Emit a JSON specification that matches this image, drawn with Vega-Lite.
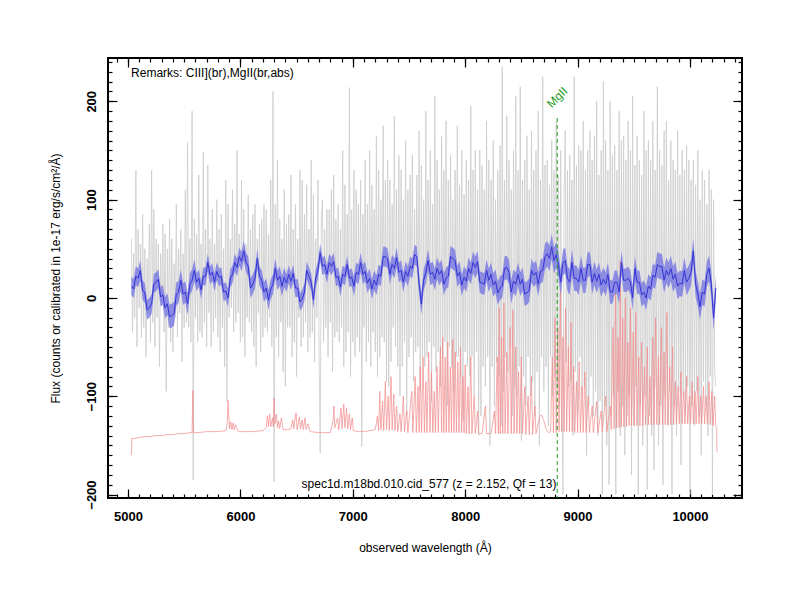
{
  "$schema": "https://vega.github.io/schema/vega-lite/v6.json",
  "width": 634,
  "height": 440,
  "autosize": {"type": "none"},
  "padding": {"left": 108, "top": 58, "right": 58, "bottom": 102},
  "background": "white",
  "config": {
    "view": {"stroke": "black", "strokeWidth": 2},
    "font": "Liberation Sans",
    "axis": {
      "grid": false,
      "domain": false,
      "tickColor": "black",
      "tickWidth": 1.2,
      "labelColor": "black",
      "labelFont": "Liberation Sans",
      "labelFontWeight": "bold",
      "labelFontSize": 13,
      "titleFont": "Liberation Sans",
      "titleFontWeight": "normal",
      "titleFontSize": 12,
      "titleColor": "black"
    }
  },
  "datasets": {
    "spec": [
      {"w":5030,"f":60},{"w":5040,"f":-35},{"w":5050,"f":45},{"w":5060,"f":-20},{"w":5070,"f":130},{"w":5080,"f":-50},{"w":5090,"f":70},{"w":5100,"f":-10},{"w":5110,"f":55},{"w":5120,"f":-40},
      {"w":5130,"f":85},{"w":5140,"f":-30},{"w":5150,"f":50},{"w":5160,"f":-60},{"w":5170,"f":40},{"w":5180,"f":-15},{"w":5190,"f":75},{"w":5200,"f":-45},{"w":5210,"f":130},{"w":5220,"f":-25},
      {"w":5230,"f":90},{"w":5240,"f":-50},{"w":5250,"f":60},{"w":5260,"f":-20},{"w":5270,"f":55},{"w":5280,"f":-70},{"w":5290,"f":45},{"w":5300,"f":-5},{"w":5310,"f":75},{"w":5320,"f":-35},
      {"w":5330,"f":65},{"w":5340,"f":-95},{"w":5350,"f":50},{"w":5360,"f":-30},{"w":5370,"f":80},{"w":5380,"f":-45},{"w":5390,"f":60},{"w":5400,"f":-55},{"w":5410,"f":35},{"w":5420,"f":-20},
      {"w":5430,"f":95},{"w":5440,"f":-40},{"w":5450,"f":50},{"w":5460,"f":-15},{"w":5470,"f":70},{"w":5480,"f":-65},{"w":5490,"f":45},{"w":5500,"f":-30},{"w":5510,"f":110},{"w":5520,"f":-25},
      {"w":5530,"f":158},{"w":5540,"f":-30},{"w":5550,"f":60},{"w":5560,"f":-45},{"w":5570,"f":190},{"w":5580,"f":-185},{"w":5590,"f":80},{"w":5600,"f":-20},{"w":5610,"f":65},{"w":5620,"f":-45},
      {"w":5630,"f":125},{"w":5640,"f":-35},{"w":5650,"f":55},{"w":5660,"f":-40},{"w":5670,"f":148},{"w":5680,"f":-25},{"w":5690,"f":70},{"w":5700,"f":-50},{"w":5710,"f":135},{"w":5720,"f":-15},
      {"w":5730,"f":60},{"w":5740,"f":-50},{"w":5750,"f":90},{"w":5760,"f":-35},{"w":5770,"f":55},{"w":5780,"f":-20},{"w":5790,"f":100},{"w":5800,"f":-40},{"w":5810,"f":70},{"w":5820,"f":-55},
      {"w":5830,"f":85},{"w":5840,"f":-30},{"w":5850,"f":50},{"w":5860,"f":-70},{"w":5870,"f":120},{"w":5880,"f":-105},{"w":5890,"f":95},{"w":5900,"f":-20},{"w":5910,"f":60},{"w":5920,"f":-10},
      {"w":5930,"f":110},{"w":5940,"f":-35},{"w":5950,"f":75},{"w":5960,"f":-25},{"w":5970,"f":150},{"w":5980,"f":-15},{"w":5990,"f":65},{"w":6000,"f":-45},{"w":6010,"f":120},{"w":6020,"f":-40},
      {"w":6030,"f":90},{"w":6040,"f":-60},{"w":6050,"f":55},{"w":6060,"f":-20},{"w":6070,"f":105},{"w":6080,"f":-25},{"w":6090,"f":70},{"w":6100,"f":-35},{"w":6110,"f":85},{"w":6120,"f":-50},
      {"w":6130,"f":95},{"w":6140,"f":-70},{"w":6150,"f":60},{"w":6160,"f":-15},{"w":6170,"f":75},{"w":6180,"f":-55},{"w":6190,"f":80},{"w":6200,"f":-40},{"w":6210,"f":95},{"w":6220,"f":-30},
      {"w":6230,"f":90},{"w":6240,"f":-35},{"w":6250,"f":65},{"w":6260,"f":-20},{"w":6270,"f":120},{"w":6280,"f":-50},{"w":6290,"f":210},{"w":6300,"f":-187},{"w":6310,"f":95},{"w":6320,"f":-40},
      {"w":6330,"f":140},{"w":6340,"f":-60},{"w":6350,"f":80},{"w":6360,"f":-25},{"w":6370,"f":60},{"w":6380,"f":-75},{"w":6390,"f":110},{"w":6400,"f":-90},{"w":6410,"f":75},{"w":6420,"f":-30},
      {"w":6430,"f":85},{"w":6440,"f":-30},{"w":6450,"f":125},{"w":6460,"f":-60},{"w":6470,"f":70},{"w":6480,"f":-45},{"w":6490,"f":95},{"w":6500,"f":-80},{"w":6510,"f":60},{"w":6520,"f":-20},
      {"w":6530,"f":130},{"w":6540,"f":-50},{"w":6550,"f":120},{"w":6560,"f":-40},{"w":6570,"f":85},{"w":6580,"f":-25},{"w":6590,"f":115},{"w":6600,"f":-55},{"w":6610,"f":70},{"w":6620,"f":-40},
      {"w":6630,"f":140},{"w":6640,"f":-35},{"w":6650,"f":105},{"w":6660,"f":-65},{"w":6670,"f":60},{"w":6680,"f":-20},{"w":6690,"f":120},{"w":6700,"f":-50},{"w":6710,"f":-158},{"w":6720,"f":80},
      {"w":6730,"f":100},{"w":6740,"f":-45},{"w":6750,"f":70},{"w":6760,"f":-30},{"w":6770,"f":90},{"w":6780,"f":-60},{"w":6790,"f":90},{"w":6800,"f":-25},{"w":6810,"f":110},{"w":6820,"f":-75},
      {"w":6830,"f":125},{"w":6840,"f":-40},{"w":6850,"f":80},{"w":6860,"f":-35},{"w":6870,"f":95},{"w":6880,"f":-45},{"w":6890,"f":70},{"w":6900,"f":-30},{"w":6910,"f":150},{"w":6920,"f":-70},
      {"w":6930,"f":115},{"w":6940,"f":-55},{"w":6950,"f":85},{"w":6960,"f":-35},{"w":6970,"f":214},{"w":6980,"f":-80},{"w":6990,"f":90},{"w":7000,"f":-45},{"w":7010,"f":130},{"w":7020,"f":-60},
      {"w":7030,"f":110},{"w":7040,"f":-40},{"w":7050,"f":95},{"w":7060,"f":-55},{"w":7070,"f":120},{"w":7080,"f":-151},{"w":7090,"f":85},{"w":7100,"f":-30},{"w":7110,"f":140},{"w":7120,"f":-65},
      {"w":7130,"f":95},{"w":7140,"f":-45},{"w":7150,"f":150},{"w":7160,"f":-70},{"w":7170,"f":115},{"w":7180,"f":-35},{"w":7190,"f":90},{"w":7200,"f":-55},{"w":7210,"f":165},{"w":7220,"f":-80},
      {"w":7230,"f":130},{"w":7240,"f":-60},{"w":7250,"f":100},{"w":7260,"f":-40},{"w":7270,"f":175},{"w":7280,"f":-45},{"w":7290,"f":120},{"w":7300,"f":-85},{"w":7310,"f":140},{"w":7320,"f":-90},
      {"w":7330,"f":120},{"w":7340,"f":-65},{"w":7350,"f":95},{"w":7360,"f":-30},{"w":7370,"f":185},{"w":7380,"f":-50},{"w":7390,"f":110},{"w":7400,"f":-70},{"w":7410,"f":145},{"w":7420,"f":-100},
      {"w":7430,"f":130},{"w":7440,"f":-70},{"w":7450,"f":100},{"w":7460,"f":-45},{"w":7470,"f":160},{"w":7480,"f":-120},{"w":7490,"f":110},{"w":7500,"f":-60},{"w":7510,"f":125},{"w":7520,"f":-40},
      {"w":7530,"f":145},{"w":7540,"f":-85},{"w":7550,"f":90},{"w":7560,"f":-55},{"w":7570,"f":125},{"w":7580,"f":-50},{"w":7590,"f":170},{"w":7600,"f":-95},{"w":7610,"f":135},{"w":7620,"f":-60},
      {"w":7630,"f":100},{"w":7640,"f":-70},{"w":7650,"f":190},{"w":7660,"f":-60},{"w":7670,"f":120},{"w":7680,"f":-45},{"w":7690,"f":150},{"w":7700,"f":-105},{"w":7710,"f":95},{"w":7720,"f":-50},
      {"w":7730,"f":205},{"w":7740,"f":-75},{"w":7750,"f":140},{"w":7760,"f":-55},{"w":7770,"f":110},{"w":7780,"f":-90},{"w":7790,"f":165},{"w":7800,"f":-60},{"w":7810,"f":130},{"w":7820,"f":-45},
      {"w":7830,"f":180},{"w":7840,"f":-110},{"w":7850,"f":120},{"w":7860,"f":-50},{"w":7870,"f":145},{"w":7880,"f":-70},{"w":7890,"f":100},{"w":7900,"f":-95},{"w":7910,"f":130},{"w":7920,"f":-60},
      {"w":7930,"f":175},{"w":7940,"f":-60},{"w":7950,"f":115},{"w":7960,"f":-80},{"w":7970,"f":150},{"w":7980,"f":-125},{"w":7990,"f":105},{"w":8000,"f":-55},{"w":8010,"f":140},{"w":8020,"f":-70},
      {"w":8030,"f":120},{"w":8040,"f":-80},{"w":8050,"f":195},{"w":8060,"f":-60},{"w":8070,"f":130},{"w":8080,"f":-100},{"w":8090,"f":150},{"w":8100,"f":-55},{"w":8110,"f":110},{"w":8120,"f":-140},
      {"w":8130,"f":150},{"w":8140,"f":-120},{"w":8150,"f":135},{"w":8160,"f":-70},{"w":8170,"f":110},{"w":8180,"f":-90},{"w":8190,"f":180},{"w":8200,"f":-60},{"w":8210,"f":140},{"w":8220,"f":-150},
      {"w":8230,"f":120},{"w":8240,"f":-70},{"w":8250,"f":160},{"w":8260,"f":-110},{"w":8270,"f":100},{"w":8280,"f":-65},{"w":8290,"f":130},{"w":8300,"f":-80},{"w":8310,"f":155},{"w":8320,"f":-130},
      {"w":8330,"f":235},{"w":8340,"f":-95},{"w":8350,"f":120},{"w":8360,"f":-60},{"w":8370,"f":185},{"w":8380,"f":-75},{"w":8390,"f":140},{"w":8400,"f":-50},{"w":8410,"f":110},{"w":8420,"f":-120},
      {"w":8430,"f":150},{"w":8440,"f":-90},{"w":8450,"f":205},{"w":8460,"f":-100},{"w":8470,"f":130},{"w":8480,"f":-70},{"w":8490,"f":215},{"w":8500,"f":-145},{"w":8510,"f":120},{"w":8520,"f":-80},
      {"w":8530,"f":140},{"w":8540,"f":-110},{"w":8550,"f":165},{"w":8560,"f":-60},{"w":8570,"f":110},{"w":8580,"f":-100},{"w":8590,"f":170},{"w":8600,"f":-85},{"w":8610,"f":130},{"w":8620,"f":-120},
      {"w":8630,"f":150},{"w":8640,"f":-75},{"w":8650,"f":190},{"w":8660,"f":-150},{"w":8670,"f":120},{"w":8680,"f":-60},{"w":8690,"f":225},{"w":8700,"f":-95},{"w":8710,"f":135},{"w":8720,"f":-70},
      {"w":8730,"f":140},{"w":8740,"f":-130},{"w":8750,"f":115},{"w":8760,"f":-60},{"w":8770,"f":160},{"w":8780,"f":-100},{"w":8790,"f":130},{"w":8800,"f":-80},{"w":8810,"f":180},{"w":8820,"f":-90},
      {"w":8830,"f":125},{"w":8840,"f":-110},{"w":8850,"f":150},{"w":8860,"f":-70},{"w":8870,"f":-200},{"w":8880,"f":110},{"w":8890,"f":170},{"w":8900,"f":-65},{"w":8910,"f":130},{"w":8920,"f":-90},
      {"w":8930,"f":145},{"w":8940,"f":-85},{"w":8950,"f":120},{"w":8960,"f":-140},{"w":8970,"f":225},{"w":8980,"f":-75},{"w":8990,"f":135},{"w":9000,"f":-120},{"w":9010,"f":155},{"w":9020,"f":-60},
      {"w":9030,"f":150},{"w":9040,"f":-100},{"w":9050,"f":180},{"w":9060,"f":-90},{"w":9070,"f":130},{"w":9080,"f":-160},{"w":9090,"f":150},{"w":9100,"f":-110},{"w":9110,"f":170},{"w":9120,"f":-80},
      {"w":9130,"f":140},{"w":9140,"f":-120},{"w":9150,"f":165},{"w":9160,"f":-95},{"w":9170,"f":200},{"w":9180,"f":-140},{"w":9190,"f":125},{"w":9200,"f":-105},{"w":9210,"f":150},{"w":9220,"f":-200},
      {"w":9230,"f":220},{"w":9240,"f":-110},{"w":9250,"f":160},{"w":9260,"f":-150},{"w":9270,"f":130},{"w":9280,"f":-190},{"w":9290,"f":200},{"w":9300,"f":-120},{"w":9310,"f":145},{"w":9320,"f":-100},
      {"w":9330,"f":155},{"w":9340,"f":-200},{"w":9350,"f":130},{"w":9360,"f":-95},{"w":9370,"f":190},{"w":9380,"f":-140},{"w":9390,"f":160},{"w":9400,"f":-110},{"w":9410,"f":165},{"w":9420,"f":-160},
      {"w":9430,"f":140},{"w":9440,"f":-120},{"w":9450,"f":180},{"w":9460,"f":-100},{"w":9470,"f":150},{"w":9480,"f":-180},{"w":9490,"f":205},{"w":9500,"f":-130},{"w":9510,"f":135},{"w":9520,"f":-90},
      {"w":9530,"f":165},{"w":9540,"f":-200},{"w":9550,"f":140},{"w":9560,"f":-110},{"w":9570,"f":125},{"w":9580,"f":-150},{"w":9590,"f":190},{"w":9600,"f":-100},{"w":9610,"f":150},{"w":9620,"f":-195},
      {"w":9630,"f":160},{"w":9640,"f":-120},{"w":9650,"f":140},{"w":9660,"f":-140},{"w":9670,"f":180},{"w":9680,"f":-175},{"w":9690,"f":130},{"w":9700,"f":-90},{"w":9710,"f":215},{"w":9720,"f":-150},
      {"w":9730,"f":150},{"w":9740,"f":-110},{"w":9750,"f":135},{"w":9760,"f":-190},{"w":9770,"f":170},{"w":9780,"f":-100},{"w":9790,"f":180},{"w":9800,"f":-130},{"w":9810,"f":120},{"w":9820,"f":-95},
      {"w":9830,"f":160},{"w":9840,"f":-200},{"w":9850,"f":140},{"w":9860,"f":-110},{"w":9870,"f":130},{"w":9880,"f":-140},{"w":9890,"f":170},{"w":9900,"f":-95},{"w":9910,"f":125},{"w":9920,"f":-170},
      {"w":9930,"f":150},{"w":9940,"f":-100},{"w":9950,"f":130},{"w":9960,"f":-120},{"w":9970,"f":155},{"w":9980,"f":-90},{"w":9990,"f":140},{"w":10000,"f":-200},{"w":10010,"f":120},{"w":10020,"f":-110},
      {"w":10030,"f":140},{"w":10040,"f":-130},{"w":10050,"f":115},{"w":10060,"f":-95},{"w":10070,"f":150},{"w":10080,"f":-120},{"w":10090,"f":100},{"w":10100,"f":-160},{"w":10110,"f":130},{"w":10120,"f":-85},
      {"w":10130,"f":120},{"w":10140,"f":-110},{"w":10150,"f":95},{"w":10160,"f":-140},{"w":10170,"f":130},{"w":10180,"f":-80},{"w":10190,"f":110},{"w":10200,"f":-200},{"w":10210,"f":100},{"w":10220,"f":-75},
      {"w":10230,"f":-90}
    ],
    "smooth": [
      {"w":5030,"s":12,"lo":3,"hi":22},{"w":5050,"s":9,"lo":0,"hi":19},{"w":5070,"s":22,"lo":13,"hi":32},{"w":5090,"s":20,"lo":11,"hi":30},{"w":5110,"s":28,"lo":18,"hi":38},
      {"w":5130,"s":8,"lo":-2,"hi":18},{"w":5150,"s":5,"lo":-5,"hi":15},{"w":5170,"s":-12,"lo":-22,"hi":-2},{"w":5190,"s":-10,"lo":-20,"hi":0},{"w":5210,"s":-6,"lo":-16,"hi":4},
      {"w":5230,"s":14,"lo":5,"hi":24},{"w":5250,"s":16,"lo":7,"hi":26},{"w":5270,"s":19,"lo":10,"hi":29},{"w":5290,"s":1,"lo":-9,"hi":11},{"w":5310,"s":3,"lo":-7,"hi":13},
      {"w":5330,"s":-10,"lo":-21,"hi":1},{"w":5350,"s":-6,"lo":-17,"hi":5},{"w":5370,"s":-19,"lo":-31,"hi":-7},{"w":5390,"s":-18,"lo":-30,"hi":-6},{"w":5410,"s":-16,"lo":-28,"hi":-4},
      {"w":5430,"s":4,"lo":-8,"hi":16},{"w":5450,"s":6,"lo":-5,"hi":17},{"w":5470,"s":18,"lo":7,"hi":29},{"w":5490,"s":4,"lo":-7,"hi":15},{"w":5510,"s":6,"lo":-5,"hi":17},
      {"w":5530,"s":-6,"lo":-17,"hi":5},{"w":5550,"s":14,"lo":3,"hi":25},{"w":5570,"s":18,"lo":7,"hi":29},{"w":5590,"s":28,"lo":17,"hi":39},{"w":5610,"s":16,"lo":7,"hi":25},
      {"w":5630,"s":20,"lo":11,"hi":29},{"w":5650,"s":8,"lo":-1,"hi":17},{"w":5670,"s":22,"lo":13,"hi":31},{"w":5690,"s":22,"lo":13,"hi":31},{"w":5710,"s":36,"lo":27,"hi":45},
      {"w":5730,"s":23,"lo":14,"hi":32},{"w":5750,"s":26,"lo":17,"hi":35},{"w":5770,"s":16,"lo":7,"hi":25},{"w":5790,"s":27,"lo":18,"hi":36},{"w":5810,"s":21,"lo":12,"hi":30},
      {"w":5830,"s":22,"lo":13,"hi":31},{"w":5850,"s":6,"lo":-3,"hi":15},{"w":5870,"s":7,"lo":-2,"hi":16},{"w":5890,"s":0,"lo":-9,"hi":9},{"w":5910,"s":20,"lo":11,"hi":29},
      {"w":5930,"s":24,"lo":15,"hi":33},{"w":5950,"s":36,"lo":27,"hi":45},{"w":5970,"s":31,"lo":22,"hi":40},{"w":5990,"s":42,"lo":33,"hi":51},{"w":6010,"s":37,"lo":27,"hi":47},
      {"w":6030,"s":48,"lo":38,"hi":58},{"w":6050,"s":36,"lo":26,"hi":46},{"w":6070,"s":32,"lo":22,"hi":42},{"w":6090,"s":10,"lo":0,"hi":20},{"w":6110,"s":14,"lo":4,"hi":24},
      {"w":6130,"s":20,"lo":10,"hi":30},{"w":6150,"s":40,"lo":30,"hi":50},{"w":6170,"s":22,"lo":12,"hi":32},{"w":6190,"s":18,"lo":8,"hi":28},{"w":6210,"s":6,"lo":-4,"hi":16},
      {"w":6230,"s":10,"lo":0,"hi":20},{"w":6250,"s":-2,"lo":-12,"hi":8},{"w":6270,"s":9,"lo":-1,"hi":19},{"w":6290,"s":14,"lo":4,"hi":24},{"w":6310,"s":30,"lo":20,"hi":40},
      {"w":6330,"s":18,"lo":8,"hi":28},{"w":6350,"s":22,"lo":12,"hi":32},{"w":6370,"s":12,"lo":2,"hi":22},{"w":6390,"s":21,"lo":11,"hi":31},{"w":6410,"s":15,"lo":6,"hi":24},
      {"w":6430,"s":24,"lo":15,"hi":33},{"w":6450,"s":17,"lo":8,"hi":26},{"w":6470,"s":25,"lo":16,"hi":34},{"w":6490,"s":10,"lo":1,"hi":19},{"w":6510,"s":10,"lo":1,"hi":19},
      {"w":6530,"s":-4,"lo":-13,"hi":5},{"w":6550,"s":-1,"lo":-10,"hi":8},{"w":6570,"s":6,"lo":-3,"hi":15},{"w":6590,"s":28,"lo":19,"hi":37},{"w":6610,"s":22,"lo":13,"hi":31},
      {"w":6630,"s":16,"lo":7,"hi":25},{"w":6650,"s":-2,"lo":-11,"hi":7},{"w":6670,"s":20,"lo":11,"hi":29},{"w":6690,"s":28,"lo":19,"hi":37},{"w":6710,"s":46,"lo":37,"hi":55},
      {"w":6730,"s":32,"lo":23,"hi":41},{"w":6750,"s":34,"lo":25,"hi":43},{"w":6770,"s":24,"lo":15,"hi":33},{"w":6790,"s":36,"lo":27,"hi":45},{"w":6810,"s":32,"lo":23,"hi":41},
      {"w":6830,"s":37,"lo":28,"hi":46},{"w":6850,"s":21,"lo":12,"hi":30},{"w":6870,"s":22,"lo":13,"hi":31},{"w":6890,"s":11,"lo":2,"hi":20},{"w":6910,"s":24,"lo":15,"hi":33},
      {"w":6930,"s":22,"lo":13,"hi":31},{"w":6950,"s":34,"lo":25,"hi":43},{"w":6970,"s":20,"lo":11,"hi":29},{"w":6990,"s":21,"lo":12,"hi":30},{"w":7010,"s":12,"lo":2,"hi":22},
      {"w":7030,"s":26,"lo":16,"hi":36},{"w":7050,"s":24,"lo":14,"hi":34},{"w":7070,"s":36,"lo":26,"hi":46},{"w":7090,"s":24,"lo":14,"hi":34},{"w":7110,"s":27,"lo":17,"hi":37},
      {"w":7130,"s":15,"lo":5,"hi":25},{"w":7150,"s":20,"lo":10,"hi":30},{"w":7170,"s":9,"lo":-1,"hi":19},{"w":7190,"s":18,"lo":8,"hi":28},{"w":7210,"s":13,"lo":3,"hi":23},
      {"w":7230,"s":24,"lo":14,"hi":34},{"w":7250,"s":22,"lo":12,"hi":32},{"w":7270,"s":42,"lo":32,"hi":52},{"w":7290,"s":42,"lo":32,"hi":52},{"w":7310,"s":40,"lo":30,"hi":50},
      {"w":7330,"s":24,"lo":14,"hi":34},{"w":7350,"s":34,"lo":24,"hi":44},{"w":7370,"s":30,"lo":20,"hi":40},{"w":7390,"s":41,"lo":31,"hi":51},{"w":7410,"s":26,"lo":16,"hi":36},
      {"w":7430,"s":28,"lo":18,"hi":38},{"w":7450,"s":16,"lo":6,"hi":26},{"w":7470,"s":27,"lo":17,"hi":37},{"w":7490,"s":22,"lo":12,"hi":32},{"w":7510,"s":32,"lo":22,"hi":42},
      {"w":7530,"s":30,"lo":20,"hi":40},{"w":7550,"s":44,"lo":34,"hi":54},{"w":7570,"s":42,"lo":32,"hi":52},{"w":7590,"s":14,"lo":4,"hi":24},{"w":7610,"s":-6,"lo":-17,"hi":5},
      {"w":7630,"s":18,"lo":7,"hi":29},{"w":7650,"s":26,"lo":15,"hi":37},{"w":7670,"s":38,"lo":27,"hi":49},{"w":7690,"s":24,"lo":13,"hi":35},{"w":7710,"s":26,"lo":15,"hi":37},
      {"w":7730,"s":19,"lo":8,"hi":30},{"w":7750,"s":30,"lo":19,"hi":41},{"w":7770,"s":24,"lo":13,"hi":35},{"w":7790,"s":28,"lo":17,"hi":39},{"w":7810,"s":14,"lo":3,"hi":25},
      {"w":7830,"s":20,"lo":9,"hi":31},{"w":7850,"s":22,"lo":11,"hi":33},{"w":7870,"s":42,"lo":31,"hi":53},{"w":7890,"s":40,"lo":29,"hi":51},{"w":7910,"s":38,"lo":27,"hi":49},
      {"w":7930,"s":22,"lo":11,"hi":33},{"w":7950,"s":26,"lo":15,"hi":37},{"w":7970,"s":13,"lo":2,"hi":24},{"w":7990,"s":21,"lo":10,"hi":32},{"w":8010,"s":17,"lo":6,"hi":28},
      {"w":8030,"s":30,"lo":19,"hi":41},{"w":8050,"s":25,"lo":14,"hi":36},{"w":8070,"s":36,"lo":25,"hi":47},{"w":8090,"s":31,"lo":20,"hi":42},{"w":8110,"s":37,"lo":26,"hi":48},
      {"w":8130,"s":16,"lo":5,"hi":27},{"w":8150,"s":15,"lo":4,"hi":26},{"w":8170,"s":14,"lo":3,"hi":25},{"w":8190,"s":28,"lo":17,"hi":39},{"w":8210,"s":18,"lo":6,"hi":30},
      {"w":8230,"s":24,"lo":12,"hi":36},{"w":8250,"s":13,"lo":1,"hi":25},{"w":8270,"s":17,"lo":5,"hi":29},{"w":8290,"s":5,"lo":-7,"hi":17},{"w":8310,"s":10,"lo":-2,"hi":22},
      {"w":8330,"s":12,"lo":0,"hi":24},{"w":8350,"s":30,"lo":18,"hi":42},{"w":8370,"s":31,"lo":19,"hi":43},{"w":8390,"s":26,"lo":14,"hi":38},{"w":8410,"s":6,"lo":-6,"hi":18},
      {"w":8430,"s":17,"lo":5,"hi":29},{"w":8450,"s":14,"lo":2,"hi":26},{"w":8470,"s":24,"lo":12,"hi":36},{"w":8490,"s":14,"lo":2,"hi":26},{"w":8510,"s":19,"lo":7,"hi":31},
      {"w":8530,"s":4,"lo":-8,"hi":16},{"w":8550,"s":5,"lo":-7,"hi":17},{"w":8570,"s":8,"lo":-4,"hi":20},{"w":8590,"s":28,"lo":16,"hi":40},{"w":8610,"s":23,"lo":11,"hi":35},
      {"w":8630,"s":26,"lo":14,"hi":38},{"w":8650,"s":14,"lo":2,"hi":26},{"w":8670,"s":27,"lo":15,"hi":39},{"w":8690,"s":28,"lo":16,"hi":40},{"w":8710,"s":42,"lo":29,"hi":55},
      {"w":8730,"s":45,"lo":32,"hi":58},{"w":8750,"s":40,"lo":27,"hi":53},{"w":8770,"s":52,"lo":39,"hi":65},{"w":8790,"s":38,"lo":25,"hi":51},{"w":8810,"s":44,"lo":31,"hi":57},
      {"w":8830,"s":34,"lo":21,"hi":47},{"w":8850,"s":16,"lo":3,"hi":29},{"w":8870,"s":36,"lo":23,"hi":49},{"w":8890,"s":38,"lo":25,"hi":51},{"w":8910,"s":20,"lo":7,"hi":33},
      {"w":8930,"s":16,"lo":3,"hi":29},{"w":8950,"s":36,"lo":23,"hi":49},{"w":8970,"s":20,"lo":7,"hi":33},{"w":8990,"s":20,"lo":7,"hi":33},{"w":9010,"s":16,"lo":3,"hi":29},
      {"w":9030,"s":30,"lo":17,"hi":43},{"w":9050,"s":18,"lo":5,"hi":31},{"w":9070,"s":18,"lo":5,"hi":31},{"w":9090,"s":34,"lo":21,"hi":47},{"w":9110,"s":34,"lo":22,"hi":46},
      {"w":9130,"s":16,"lo":4,"hi":28},{"w":9150,"s":25,"lo":13,"hi":37},{"w":9170,"s":17,"lo":5,"hi":29},{"w":9190,"s":24,"lo":12,"hi":36},{"w":9210,"s":13,"lo":1,"hi":25},
      {"w":9230,"s":19,"lo":7,"hi":31},{"w":9250,"s":14,"lo":2,"hi":26},{"w":9270,"s":24,"lo":12,"hi":36},{"w":9290,"s":6,"lo":-6,"hi":18},{"w":9310,"s":6,"lo":-6,"hi":18},
      {"w":9330,"s":16,"lo":4,"hi":28},{"w":9350,"s":16,"lo":4,"hi":28},{"w":9370,"s":6,"lo":-6,"hi":18},{"w":9390,"s":36,"lo":24,"hi":48},{"w":9410,"s":18,"lo":6,"hi":30},
      {"w":9430,"s":18,"lo":6,"hi":30},{"w":9450,"s":20,"lo":8,"hi":32},{"w":9470,"s":16,"lo":4,"hi":28},{"w":9490,"s":0,"lo":-12,"hi":12},{"w":9510,"s":30,"lo":18,"hi":42},
      {"w":9530,"s":16,"lo":4,"hi":28},{"w":9550,"s":16,"lo":4,"hi":28},{"w":9570,"s":3,"lo":-9,"hi":15},{"w":9590,"s":6,"lo":-6,"hi":18},{"w":9610,"s":0,"lo":-12,"hi":12},
      {"w":9630,"s":12,"lo":0,"hi":24},{"w":9650,"s":9,"lo":-3,"hi":21},{"w":9670,"s":23,"lo":11,"hi":35},{"w":9690,"s":21,"lo":9,"hi":33},{"w":9710,"s":34,"lo":21,"hi":47},
      {"w":9730,"s":32,"lo":19,"hi":45},{"w":9750,"s":32,"lo":19,"hi":45},{"w":9770,"s":18,"lo":5,"hi":31},{"w":9790,"s":28,"lo":15,"hi":41},{"w":9810,"s":23,"lo":10,"hi":36},
      {"w":9830,"s":30,"lo":17,"hi":43},{"w":9850,"s":19,"lo":6,"hi":32},{"w":9870,"s":24,"lo":11,"hi":37},{"w":9890,"s":12,"lo":-1,"hi":25},{"w":9910,"s":15,"lo":2,"hi":28},
      {"w":9930,"s":14,"lo":1,"hi":27},{"w":9950,"s":28,"lo":15,"hi":41},{"w":9970,"s":16,"lo":3,"hi":29},{"w":9990,"s":20,"lo":7,"hi":33},{"w":10010,"s":26,"lo":13,"hi":39},
      {"w":10030,"s":48,"lo":35,"hi":61},{"w":10050,"s":14,"lo":1,"hi":27},{"w":10070,"s":4,"lo":-9,"hi":17},{"w":10090,"s":-9,"lo":-22,"hi":4},{"w":10110,"s":6,"lo":-7,"hi":19},
      {"w":10130,"s":4,"lo":-9,"hi":17},{"w":10150,"s":24,"lo":11,"hi":37},{"w":10170,"s":30,"lo":17,"hi":43},{"w":10190,"s":14,"lo":1,"hi":27},{"w":10210,"s":-20,"lo":-33,"hi":-7},
      {"w":10230,"s":10,"lo":-3,"hi":23}
    ],
    "sky": [
      {"w":5030,"e":-160},{"w":5034,"e":-143},{"w":5060,"e":-143},{"w":5100,"e":-142},{"w":5150,"e":-141},{"w":5200,"e":-141},{"w":5250,"e":-140},{"w":5300,"e":-140},{"w":5350,"e":-139},{"w":5400,"e":-139},
      {"w":5450,"e":-138},{"w":5500,"e":-138},{"w":5550,"e":-137},{"w":5570,"e":-137},{"w":5577,"e":-94},{"w":5584,"e":-137},{"w":5620,"e":-137},{"w":5700,"e":-136},{"w":5800,"e":-136},{"w":5870,"e":-135},
      {"w":5883,"e":-128},{"w":5890,"e":-104},{"w":5896,"e":-118},{"w":5903,"e":-133},{"w":5915,"e":-126},{"w":5925,"e":-134},{"w":5935,"e":-127},{"w":5945,"e":-134},{"w":5958,"e":-129},{"w":5975,"e":-135},
      {"w":6000,"e":-136},{"w":6100,"e":-136},{"w":6200,"e":-135},{"w":6230,"e":-132},{"w":6240,"e":-120},{"w":6250,"e":-131},{"w":6260,"e":-118},{"w":6270,"e":-131},{"w":6285,"e":-122},{"w":6293,"e":-131},
      {"w":6300,"e":-102},{"w":6308,"e":-128},{"w":6320,"e":-118},{"w":6330,"e":-132},{"w":6340,"e":-125},{"w":6350,"e":-133},{"w":6365,"e":-122},{"w":6380,"e":-134},{"w":6420,"e":-134},{"w":6450,"e":-133},
      {"w":6465,"e":-124},{"w":6475,"e":-133},{"w":6495,"e":-117},{"w":6505,"e":-134},{"w":6525,"e":-121},{"w":6535,"e":-133},{"w":6550,"e":-124},{"w":6560,"e":-134},{"w":6575,"e":-122},{"w":6585,"e":-134},
      {"w":6600,"e":-128},{"w":6620,"e":-136},{"w":6700,"e":-137},{"w":6800,"e":-137},{"w":6825,"e":-125},{"w":6832,"e":-110},{"w":6840,"e":-132},{"w":6865,"e":-122},{"w":6875,"e":-134},{"w":6895,"e":-112},
      {"w":6905,"e":-133},{"w":6920,"e":-108},{"w":6930,"e":-132},{"w":6945,"e":-112},{"w":6955,"e":-133},{"w":6970,"e":-118},{"w":6980,"e":-134},{"w":6995,"e":-122},{"w":7005,"e":-135},{"w":7050,"e":-136},
      {"w":7100,"e":-136},{"w":7150,"e":-135},{"w":7200,"e":-134},{"w":7220,"e":-120},{"w":7230,"e":-135},{"w":7240,"e":-95},{"w":7250,"e":-134},{"w":7265,"e":-105},{"w":7275,"e":-135},{"w":7290,"e":-85},
      {"w":7300,"e":-134},{"w":7315,"e":-100},{"w":7325,"e":-135},{"w":7340,"e":-80},{"w":7350,"e":-134},{"w":7365,"e":-98},{"w":7375,"e":-135},{"w":7390,"e":-110},{"w":7400,"e":-136},{"w":7420,"e":-118},
      {"w":7430,"e":-136},{"w":7450,"e":-100},{"w":7460,"e":-136},{"w":7480,"e":-115},{"w":7490,"e":-137},{"w":7525,"e":-95},{"w":7535,"e":-137},{"w":7555,"e":-80},{"w":7565,"e":-137},{"w":7580,"e":-90},
      {"w":7590,"e":-137},{"w":7600,"e":-70},{"w":7612,"e":-137},{"w":7625,"e":-60},{"w":7637,"e":-137},{"w":7650,"e":-85},{"w":7660,"e":-137},{"w":7675,"e":-55},{"w":7687,"e":-137},{"w":7700,"e":-75},
      {"w":7712,"e":-137},{"w":7725,"e":-95},{"w":7735,"e":-137},{"w":7750,"e":-70},{"w":7760,"e":-137},{"w":7780,"e":-50},{"w":7790,"e":-137},{"w":7800,"e":-40},{"w":7810,"e":-137},{"w":7822,"e":-60},
      {"w":7832,"e":-137},{"w":7845,"e":-45},{"w":7855,"e":-137},{"w":7868,"e":-70},{"w":7878,"e":-137},{"w":7890,"e":-42},{"w":7900,"e":-137},{"w":7912,"e":-55},{"w":7922,"e":-137},{"w":7935,"e":-65},
      {"w":7945,"e":-137},{"w":7958,"e":-50},{"w":7968,"e":-137},{"w":7980,"e":-80},{"w":7990,"e":-137},{"w":8000,"e":-68},{"w":8010,"e":-138},{"w":8025,"e":-90},{"w":8035,"e":-138},{"w":8050,"e":-60},
      {"w":8060,"e":-138},{"w":8080,"e":-100},{"w":8090,"e":-138},{"w":8110,"e":-115},{"w":8120,"e":-138},{"w":8150,"e":-138},{"w":8180,"e":-110},{"w":8190,"e":-138},{"w":8230,"e":-138},{"w":8260,"e":-115},
      {"w":8270,"e":-138},{"w":8285,"e":-60},{"w":8295,"e":-138},{"w":8302,"e":-10},{"w":8312,"e":-138},{"w":8325,"e":-40},{"w":8334,"e":-138},{"w":8345,"e":-5},{"w":8355,"e":-138},{"w":8370,"e":-55},
      {"w":8380,"e":-138},{"w":8400,"e":-30},{"w":8410,"e":-138},{"w":8425,"e":-12},{"w":8435,"e":-138},{"w":8450,"e":-50},{"w":8460,"e":-138},{"w":8475,"e":-75},{"w":8485,"e":-138},{"w":8500,"e":-60},
      {"w":8510,"e":-138},{"w":8530,"e":-90},{"w":8540,"e":-139},{"w":8560,"e":-100},{"w":8570,"e":-139},{"w":8590,"e":-80},{"w":8600,"e":-139},{"w":8620,"e":-110},{"w":8630,"e":-138},{"w":8650,"e":-128},
      {"w":8665,"e":-120},{"w":8680,"e":-119},{"w":8700,"e":-125},{"w":8720,"e":-133},{"w":8740,"e":-137},{"w":8760,"e":-136},{"w":8775,"e":-60},{"w":8785,"e":-137},{"w":8800,"e":-20},{"w":8810,"e":-137},
      {"w":8825,"e":-30},{"w":8835,"e":-136},{"w":8848,"e":8},{"w":8858,"e":-136},{"w":8870,"e":-40},{"w":8880,"e":-136},{"w":8893,"e":-10},{"w":8903,"e":-136},{"w":8918,"e":-50},{"w":8928,"e":-136},
      {"w":8942,"e":-25},{"w":8952,"e":-136},{"w":8965,"e":-70},{"w":8975,"e":-137},{"w":8990,"e":-85},{"w":9000,"e":-137},{"w":9015,"e":-65},{"w":9025,"e":-137},{"w":9040,"e":-90},{"w":9050,"e":-137},
      {"w":9065,"e":-75},{"w":9075,"e":-137},{"w":9095,"e":-100},{"w":9105,"e":-137},{"w":9130,"e":-110},{"w":9140,"e":-137},{"w":9170,"e":-105},{"w":9180,"e":-137},{"w":9210,"e":-115},{"w":9220,"e":-136},
      {"w":9250,"e":-100},{"w":9260,"e":-136},{"w":9290,"e":-110},{"w":9300,"e":-134},{"w":9315,"e":-30},{"w":9325,"e":-133},{"w":9338,"e":5},{"w":9348,"e":-132},{"w":9360,"e":-40},{"w":9370,"e":-132},
      {"w":9380,"e":38},{"w":9390,"e":-131},{"w":9402,"e":-20},{"w":9412,"e":-131},{"w":9425,"e":0},{"w":9435,"e":-131},{"w":9448,"e":-45},{"w":9458,"e":-130},{"w":9470,"e":-10},{"w":9480,"e":-130},
      {"w":9495,"e":-35},{"w":9505,"e":-130},{"w":9518,"e":-15},{"w":9528,"e":-130},{"w":9545,"e":-60},{"w":9555,"e":-130},{"w":9570,"e":-45},{"w":9580,"e":-130},{"w":9595,"e":-70},{"w":9605,"e":-129},
      {"w":9620,"e":-50},{"w":9630,"e":-129},{"w":9645,"e":-80},{"w":9655,"e":-129},{"w":9670,"e":-40},{"w":9680,"e":-129},{"w":9695,"e":-20},{"w":9705,"e":-129},{"w":9720,"e":-60},{"w":9730,"e":-129},
      {"w":9745,"e":-30},{"w":9755,"e":-129},{"w":9770,"e":-55},{"w":9780,"e":-129},{"w":9795,"e":-15},{"w":9805,"e":-129},{"w":9820,"e":-70},{"w":9830,"e":-129},{"w":9845,"e":-50},{"w":9855,"e":-129},
      {"w":9870,"e":-85},{"w":9880,"e":-128},{"w":9895,"e":-90},{"w":9905,"e":-128},{"w":9920,"e":-75},{"w":9930,"e":-128},{"w":9945,"e":-95},{"w":9955,"e":-128},{"w":9970,"e":-80},{"w":9980,"e":-128},
      {"w":9995,"e":-100},{"w":10005,"e":-128},{"w":10020,"e":-85},{"w":10030,"e":-128},{"w":10045,"e":-95},{"w":10055,"e":-128},{"w":10070,"e":-80},{"w":10080,"e":-128},{"w":10095,"e":-100},{"w":10105,"e":-128},
      {"w":10120,"e":-90},{"w":10130,"e":-128},{"w":10145,"e":-100},{"w":10155,"e":-128},{"w":10170,"e":-85},{"w":10180,"e":-129},{"w":10195,"e":-95},{"w":10205,"e":-130},{"w":10220,"e":-100},{"w":10230,"e":-131},
      {"w":10238,"e":-132},{"w":10240,"e":-157}
    ],
    "lines": [
      {"w":8819,"label":"MgII"}
    ]
  },
  "layer": [
    {
      "data": {"name": "spec"},
      "mark": {"type": "line", "color": "#cbcbcb", "strokeWidth": 0.8, "clip": true},
      "encoding": {
        "x": {"field": "w", "type": "quantitative", "scale": {"domain": [4822, 10463], "nice": false, "zero": false},
          "axis": {"orient": "bottom", "values": [5000,6000,7000,8000,9000,10000], "format": "d", "offset": -9, "tickSize": 9, "labelPadding": 12, "title": "observed wavelength (Å)", "titlePadding": 19}},
        "y": {"field": "f", "type": "quantitative", "scale": {"domain": [-203.5, 244], "nice": false, "zero": false},
          "axis": {"orient": "left", "values": [-200,-100,0,100,200], "format": "d", "offset": -9, "tickSize": 9, "labelPadding": 10, "labelAngle": 270, "labelAlign": "center", "labelBaseline": "bottom", "title": "Flux (counts or calibrated in 1e-17 erg/s/cm²/Å)", "titlePadding": 23}}
      }
    },
    {
      "data": {"name": "sky"},
      "mark": {"type": "line", "color": "#f28a8a", "strokeWidth": 0.7, "clip": true},
      "encoding": {
        "x": {"field": "w", "type": "quantitative", "scale": {"domain": [4822, 10463], "nice": false, "zero": false},
          "axis": {"orient": "bottom", "values": [4900,5000,5100,5200,5300,5400,5500,5600,5700,5800,5900,6000,6100,6200,6300,6400,6500,6600,6700,6800,6900,7000,7100,7200,7300,7400,7500,7600,7700,7800,7900,8000,8100,8200,8300,8400,8500,8600,8700,8800,8900,9000,9100,9200,9300,9400,9500,9600,9700,9800,9900,10000,10100,10200,10300,10400], "offset": -4, "tickSize": 4, "labels": false, "title": null}},
        "y": {"field": "e", "type": "quantitative", "scale": {"domain": [-203.5, 244], "nice": false, "zero": false},
          "axis": {"orient": "left", "values": [-200,-190,-180,-170,-160,-150,-140,-130,-120,-110,-100,-90,-80,-70,-60,-50,-40,-30,-20,-10,0,10,20,30,40,50,60,70,80,90,100,110,120,130,140,150,160,170,180,190,200,210,220,230,240], "offset": -4, "tickSize": 4, "labels": false, "title": null}}
      }
    },
    {
      "data": {"name": "smooth"},
      "mark": {"type": "area", "color": "#7d7de3", "opacity": 0.85, "clip": true},
      "encoding": {
        "x": {"field": "w", "type": "quantitative", "scale": {"domain": [4822, 10463], "nice": false, "zero": false},
          "axis": {"orient": "top", "values": [5000,6000,7000,8000,9000,10000], "offset": -9, "tickSize": 9, "labels": false, "title": null}},
        "y": {"field": "lo", "type": "quantitative", "scale": {"domain": [-203.5, 244], "nice": false, "zero": false},
          "axis": {"orient": "right", "values": [-200,-100,0,100,200], "offset": -9, "tickSize": 9, "labels": false, "title": null}},
        "y2": {"field": "hi"}
      }
    },
    {
      "data": {"name": "smooth"},
      "mark": {"type": "line", "color": "#3434d4", "strokeWidth": 1, "clip": true},
      "encoding": {
        "x": {"field": "w", "type": "quantitative", "scale": {"domain": [4822, 10463], "nice": false, "zero": false},
          "axis": {"orient": "top", "values": [4900,5000,5100,5200,5300,5400,5500,5600,5700,5800,5900,6000,6100,6200,6300,6400,6500,6600,6700,6800,6900,7000,7100,7200,7300,7400,7500,7600,7700,7800,7900,8000,8100,8200,8300,8400,8500,8600,8700,8800,8900,9000,9100,9200,9300,9400,9500,9600,9700,9800,9900,10000,10100,10200,10300,10400], "offset": -4, "tickSize": 4, "labels": false, "title": null}},
        "y": {"field": "s", "type": "quantitative", "scale": {"domain": [-203.5, 244], "nice": false, "zero": false},
          "axis": {"orient": "right", "values": [-200,-190,-180,-170,-160,-150,-140,-130,-120,-110,-100,-90,-80,-70,-60,-50,-40,-30,-20,-10,0,10,20,30,40,50,60,70,80,90,100,110,120,130,140,150,160,170,180,190,200,210,220,230,240], "offset": -4, "tickSize": 4, "labels": false, "title": null}}
      }
    },
    {
      "data": {"name": "lines"},
      "mark": {"type": "rule", "color": "#1d9b1d", "strokeWidth": 1, "strokeDash": [4, 3]},
      "encoding": {
        "x": {"field": "w", "type": "quantitative", "axis": null},
        "y": {"datum": 183, "type": "quantitative", "axis": null},
        "y2": {"datum": -203.5}
      }
    },
    {
      "data": {"name": "lines"},
      "mark": {"type": "text", "color": "#1d9b1d", "font": "Liberation Sans", "fontSize": 12, "angle": 315, "align": "center", "baseline": "middle", "dx": 0},
      "encoding": {
        "x": {"field": "w", "type": "quantitative", "axis": null},
        "y": {"datum": 204, "type": "quantitative", "axis": null},
        "text": {"field": "label"}
      }
    },
    {
      "data": {"values": [{"label": "Remarks: CIII](br),MgII(br,abs)"}]},
      "mark": {"type": "text", "font": "Liberation Sans", "fontSize": 12, "color": "black", "align": "left", "baseline": "middle"},
      "encoding": {
        "x": {"datum": 5027, "type": "quantitative", "axis": null},
        "y": {"datum": 229, "type": "quantitative", "axis": null},
        "text": {"field": "label"}
      }
    },
    {
      "data": {"values": [{"label": "spec1d.m18bd.010.cid_577 (z = 2.152, Qf = 13)"}]},
      "mark": {"type": "text", "font": "Liberation Sans", "fontSize": 12, "color": "black", "align": "center", "baseline": "middle"},
      "encoding": {
        "x": {"datum": 7678, "type": "quantitative", "axis": null},
        "y": {"datum": -189, "type": "quantitative", "axis": null},
        "text": {"field": "label"}
      }
    }
  ],
  "resolve": {"axis": {"x": "independent", "y": "independent"}}
}
